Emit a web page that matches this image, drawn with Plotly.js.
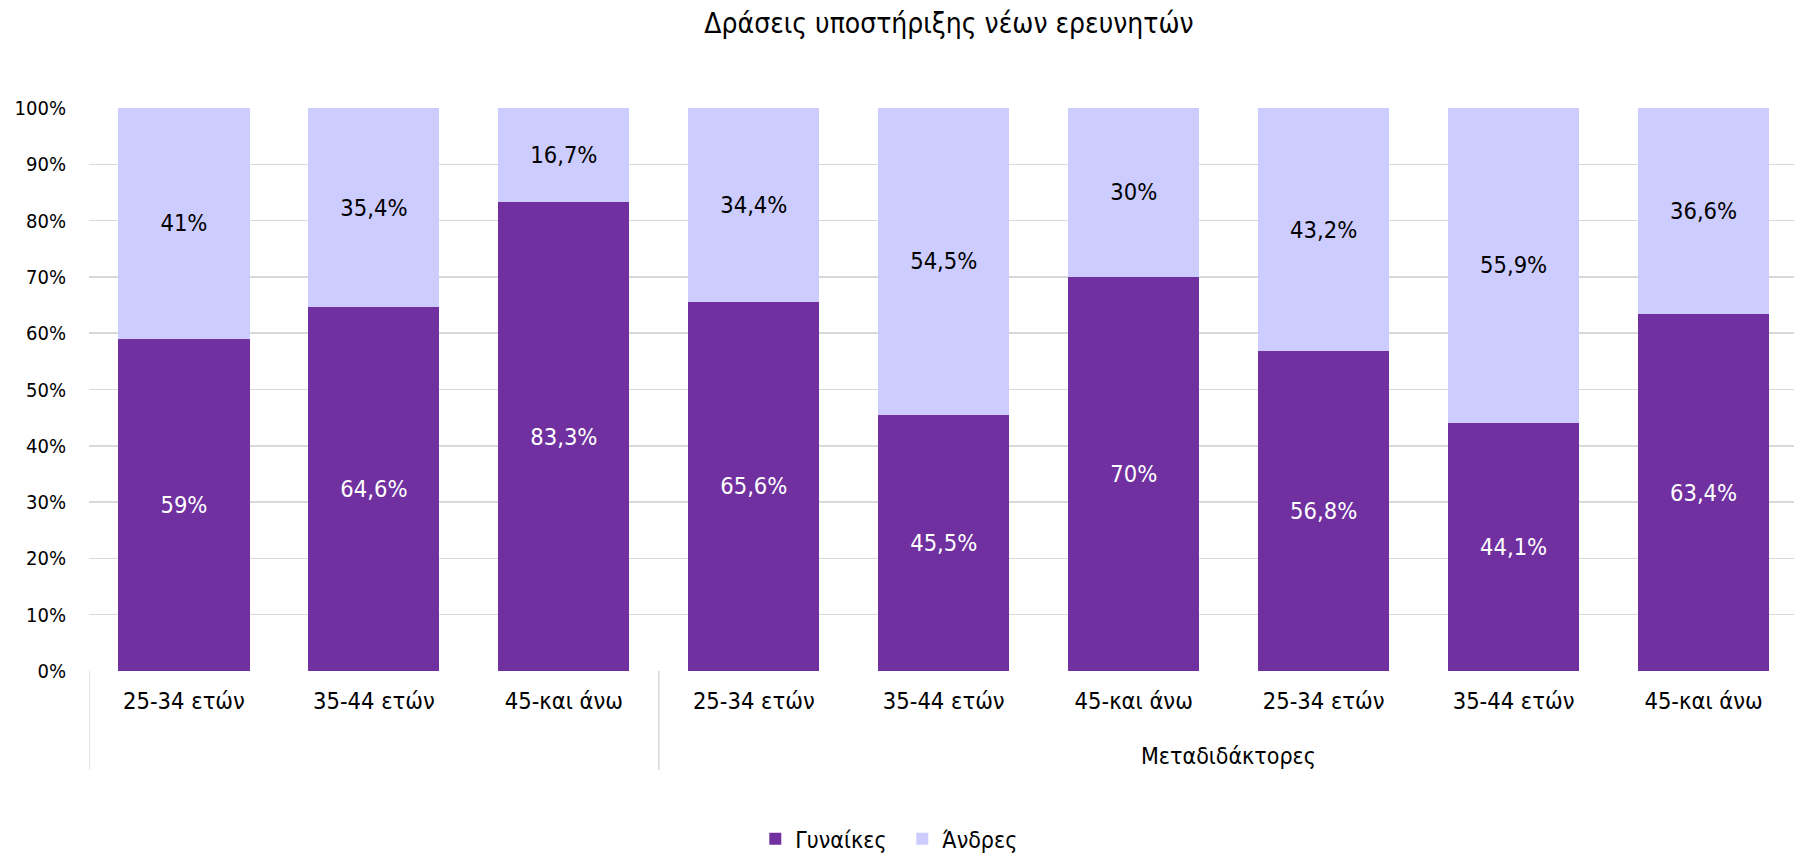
<!DOCTYPE html>
<html>
<head>
<meta charset="utf-8">
<script src="https://cdn.plot.ly/plotly-3.0.1.min.js"></script>
<style>html,body{margin:0;padding:0;background:#fff;}#chart{width:1794px;height:856px;}</style>
</head>
<body>
<div id="chart"></div>
<script>
const categories = ["25-34 ετών","35-44 ετών","45-και άνω","25-34 ετών","35-44 ετών","45-και άνω","25-34 ετών","35-44 ετών","45-και άνω"];
const groupLabels = ["", "Μεταδιδάκτορες"];
const women = [59, 64.6, 83.3, 65.6, 45.5, 70, 56.8, 44.1, 63.4];
const men = [41, 35.4, 16.7, 34.4, 54.5, 30, 43.2, 55.9, 36.6];
const seriesNames = ["Γυναίκες", "Άνδρες"];
const title = "Δράσεις υποστήριξης νέων ερευνητών";

const FONT = "'DejaVu Sans Condensed', 'Liberation Sans Narrow', sans-serif";
const idx = categories.map((c, i) => i);
const fmt = v => String(v).replace('.', ',') + '%';

const traces = [
  {
    type: 'bar', name: seriesNames[0], x: idx, y: women,
    marker: {color: '#7030A0'},
    text: women.map(fmt), textposition: 'inside', insidetextanchor: 'middle', textangle: 0,
    textfont: {color: '#ffffff', size: 23.5, family: FONT},
    hoverinfo: 'skip'
  },
  {
    type: 'bar', name: seriesNames[1], x: idx, y: men,
    marker: {color: '#CCCCFF'},
    text: men.map(fmt), textposition: 'inside', insidetextanchor: 'middle', textangle: 0,
    textfont: {color: '#000000', size: 23.5, family: FONT},
    hoverinfo: 'skip'
  }
];

const plotBottomPx = 671, plotTopPx = 107.5, plotH = plotBottomPx - plotTopPx;
const py = px => -(px - plotBottomPx) / plotH;
const pxX = px => (px - 88.5) / 1705.5;

const layout = {
  width: 1794, height: 856,
  margin: {l: 88.5, r: 0, t: 107.5, b: 856 - 671, autoexpand: false},
  paper_bgcolor: '#ffffff', plot_bgcolor: '#ffffff',
  barmode: 'stack', bargap: 0.31,
  font: {family: FONT, color: '#000000', size: 23},
  title: {text: title, font: {family: FONT, size: 28, color: '#000'}, x: 949/1794, xref: 'container', xanchor: 'center', y: 1 - 23/856, yref: 'container', yanchor: 'middle'},
  xaxis: {
    range: [-0.5, 8.476], tickvals: idx, ticktext: categories,
    showgrid: false, zeroline: false, showline: false, ticks: '',
    tickfont: {family: FONT, size: 23.5, color: '#000'}, ticklabelstandoff: 13, fixedrange: true
  },
  yaxis: {
    range: [0, 100], dtick: 10, ticksuffix: '%',
    showgrid: true, gridcolor: '#d9d9d9', gridwidth: 1.5, zeroline: false, showline: false,
    ticks: '', ticklabelstandoff: 22,
    tickfont: {family: FONT, size: 20, color: '#000'}, fixedrange: true
  },
  shapes: [-0.5, 2.5].map(xv => ({
    type: 'line', xref: 'x', yref: 'paper', x0: xv, x1: xv, y0: 0, y1: py(770),
    line: {color: '#d9d9d9', width: 1.5}
  })),
  annotations: [
    {text: groupLabels[1], x: 5.5, xref: 'x', y: py(756), yref: 'paper', xanchor: 'center', yanchor: 'middle', showarrow: false, font: {family: FONT, size: 23, color: '#000'}}
  ],
  showlegend: true,
  legend: {orientation: 'h', x: pxX(755), xanchor: 'left', y: py(839), yanchor: 'middle', font: {family: FONT, size: 23, color: '#000'}, itemwidth: 30, entrywidth: 102, tracegroupgap: 0, traceorder: 'normal'}
};

Plotly.newPlot('chart', traces, layout, {displayModeBar: false, staticPlot: true});
</script>
</body>
</html>
